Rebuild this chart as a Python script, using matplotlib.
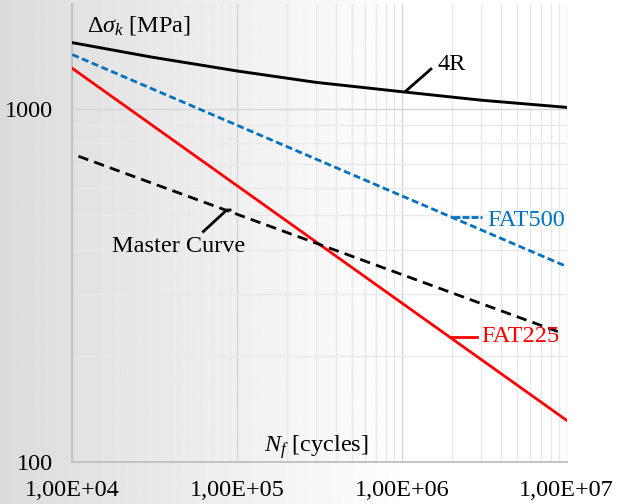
import numpy as np
import matplotlib
matplotlib.use('Agg')
import matplotlib.pyplot as plt
from matplotlib.ticker import FixedLocator, FuncFormatter, NullFormatter

plt.rcParams['font.family'] = ['Liberation Serif', 'DejaVu Serif']
plt.rcParams['mathtext.fontset'] = 'custom'
plt.rcParams['mathtext.rm'] = 'Liberation Serif'
plt.rcParams['mathtext.it'] = 'Liberation Serif:italic'
plt.rcParams['lines.scale_dashes'] = False

# values (cycles, MPa)
N_4R = [1e4, 3e4, 1e5, 3e5, 1e6, 3e6, 1e7]
S_4R = [1546, 1408, 1285, 1193, 1122, 1062, 1013]
N_fat500 = [1e4, 1e7]
S_fat500 = [1430, 358]
N_fat225 = [1e4, 1e7]
S_fat225 = [1307, 131]
N_master = [1.09e4, 9.3e6]
S_master = [736, 232]

x_ticks = [1e4, 1e5, 1e6, 1e7]
y_ticks = [100, 1000]

fig = plt.figure(figsize=(6.17, 5.04), dpi=100)

# grey-to-white background
bg = fig.add_axes([0, 0, 1, 1], zorder=0)
grad = np.clip(np.linspace(0.86, 1.07, 400), 0, 1)
bg.imshow(np.tile(grad, (10, 1)), cmap='gray', vmin=0, vmax=1,
          aspect='auto', extent=[0, 1, 0, 1])
bg.set_axis_off()

ax = fig.add_axes([0.1172, 0.0839, 0.8013, 0.9081], zorder=1)
ax.set_facecolor('none')
ax.set_xscale('log'); ax.set_yscale('log')
ax.set_xlim(1e4, 1e7); ax.set_ylim(100, 1990)

ax.grid(which='major', color='#d6d6d6', lw=1.0)
ax.grid(which='minor', color='#e9e9e9', lw=1.0)
ax.set_axisbelow(True)
for s in ['top', 'right']:
    ax.spines[s].set_visible(False)
for s in ['left', 'bottom']:
    ax.spines[s].set_color('#bfbfbf'); ax.spines[s].set_linewidth(1.3)

ax.xaxis.set_major_locator(FixedLocator(x_ticks))
ax.yaxis.set_major_locator(FixedLocator(y_ticks))
ax.xaxis.set_major_formatter(FuncFormatter(
    lambda v, p: f"{v/10**int(round(np.log10(v))):.2f}E+{int(round(np.log10(v))):02d}".replace('.', ',')))
ax.yaxis.set_major_formatter(FuncFormatter(lambda v, p: f"{int(v)}"))
ax.xaxis.set_minor_formatter(NullFormatter()); ax.yaxis.set_minor_formatter(NullFormatter())
ax.tick_params(which='both', length=0)
ax.tick_params(axis='x', labelsize=17.5, pad=13)
ax.tick_params(axis='y', labelsize=17.5, pad=14)

ax.plot(N_4R, S_4R, color='black', lw=2.1, zorder=3)
ax.plot(N_fat500, S_fat500, color='#0070C0', lw=2.0, dashes=(5, 2.6), zorder=3)
ax.plot(N_fat225, S_fat225, color='#FF0000', lw=2.0, zorder=3)
ax.plot(N_master, S_master, color='black', lw=2.0, dashes=(7.5, 4.5), zorder=3)

# callouts
ax.plot([1.045e6, 1.50e6], [1122, 1301], color='black', lw=2.0)
ax.text(1.64e6, 1342, '4R', fontsize=17.5, va='center', ha='left')
ax.plot([2.05e6, 3.05e6], [495, 495], color='#0070C0', lw=2.0, dashes=(5, 1.5))
ax.text(3.3e6, 485, 'FAT500', fontsize=17.5, va='center', ha='left', color='#0070C0')
ax.plot([1.96e6, 2.85e6], [226, 226], color='#FF0000', lw=2.0)
ax.text(3.02e6, 226, 'FAT225', fontsize=17.5, va='center', ha='left', color='#FF0000')
ax.plot([6.24e4, 8.65e4, 9.06e4], [450, 518, 518], color='black', lw=2.0)
ax.text(4.40e4, 409, 'Master Curve', fontsize=17.5, va='center', ha='center')

ax.text(0.0297, 0.954, r'$\Delta\sigma_k$ [MPa]', transform=ax.transAxes,
        fontsize=17.5, va='center', ha='left')
ax.text(0.494, 0.032, r'$N_f$ [cycles]', transform=ax.transAxes,
        fontsize=17.5, va='center', ha='center')

fig.savefig('out.png', dpi=100)
